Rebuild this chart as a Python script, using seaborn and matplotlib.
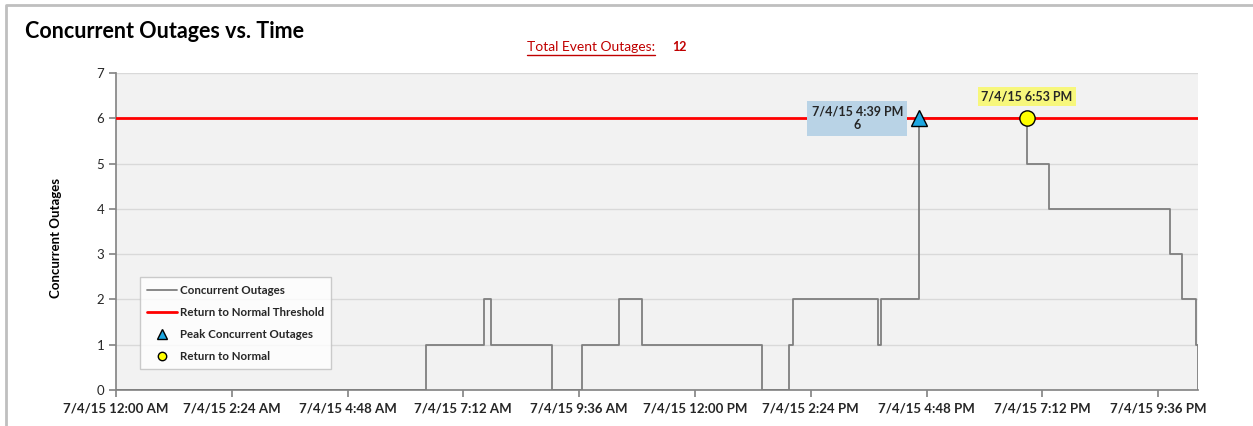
import numpy as np
import pandas as pd
import seaborn as sns
import matplotlib.pyplot as plt
from matplotlib.lines import Line2D

# step changes of concurrent outages on 7/4/15 (value holds until next change)
change_times = ["00:00", "06:25", "07:38", "07:46", "09:02", "09:40", "10:26",
                "10:54", "13:24", "13:57", "14:02", "15:48", "15:51", "16:39",
                "18:53", "19:20", "21:51", "22:06", "22:23", "22:25"]
outage_counts = [0, 1, 2, 1, 0, 1, 2, 1, 0, 1, 2, 1, 2, 6, 5, 4, 3, 2, 1, 0]

threshold = 6
peak_time = "16:39"
peak_value = 6
normal_time = "18:53"
normal_value = 6
total_event_outages = 12
y_ticks = [0, 1, 2, 3, 4, 5, 6, 7]

day = "2015-07-04 "
df = pd.DataFrame({"time": pd.to_datetime([day + t for t in change_times]),
                   "outages": outage_counts})
peak_dt = pd.Timestamp(day + peak_time)
normal_dt = pd.Timestamp(day + normal_time)

sns.set_theme(style="whitegrid", rc={
    "axes.facecolor": "#f2f2f2",
    "grid.color": "#d9d9d9",
    "grid.linewidth": 1.0,
    "axes.edgecolor": "#868686",
})
plt.rcParams["font.family"] = ["Lato", "DejaVu Sans"]

fig = plt.figure(figsize=(12.53, 4.26), dpi=100)
ax = fig.add_axes([116 / 1253, 1 - 390 / 426, 1081.5 / 1253, 317 / 426])

sns.lineplot(data=df, x="time", y="outages", ax=ax, drawstyle="steps-post",
             color="#7f7f7f", linewidth=1.3, label="Concurrent Outages", zorder=3)
ax.axhline(threshold, color="#ff0000", linewidth=2.0, zorder=4,
           label="Return to Normal Threshold")
ax.plot([peak_dt], [peak_value], linestyle="none", marker="^", markersize=12,
        markerfacecolor="#1ea7e1", markeredgecolor="black", markeredgewidth=1.0,
        zorder=6, label="Peak Concurrent Outages")
ax.plot([normal_dt], [normal_value], linestyle="none", marker="o", markersize=11,
        markerfacecolor="#ffff00", markeredgecolor="black", markeredgewidth=1.0,
        zorder=6, label="Return to Normal")


def fmt_dt(ts):
    return f"{ts.month}/{ts.day}/{ts.strftime('%y')} {ts.hour % 12 or 12}:{ts.minute:02d} {ts.strftime('%p')}"


ax.annotate(f"{fmt_dt(peak_dt)}\n{peak_value}", xy=(peak_dt, peak_value),
            xytext=(-62, 0), textcoords="offset pixels", ha="center", va="center",
            fontsize=9, fontweight="bold", color="#262626", linespacing=1.2,
            bbox=dict(boxstyle="square,pad=0.35", facecolor="#b9d3e6", edgecolor="none"),
            zorder=5)
ax.annotate(fmt_dt(normal_dt), xy=(normal_dt, normal_value),
            xytext=(0, 22), textcoords="offset pixels", ha="center", va="center",
            fontsize=9, fontweight="bold", color="#262626",
            bbox=dict(boxstyle="square,pad=0.3", facecolor="#f7f77c", edgecolor="none"),
            zorder=5)

# axes
start = df["time"].iloc[0]
ax.set_xlim(start, df["time"].iloc[-1])
ax.set_ylim(0, 7)
ax.set_yticks(y_ticks)
ticks = pd.date_range(start, periods=10, freq="144min")
ax.set_xticks(ticks)
ax.set_xticklabels([fmt_dt(t) for t in ticks])
ax.grid(axis="x", visible=False)
ax.grid(axis="y", visible=True)
for s in ["top", "right"]:
    ax.spines[s].set_visible(False)
ax.tick_params(axis="x", length=5, color="#868686", labelsize=9.5, pad=4,
               labelcolor="#262626", bottom=True)
ax.tick_params(axis="y", length=5, color="#868686", labelsize=9.5,
               labelcolor="#262626", left=True)
ax.set_xlabel("")
ax.set_ylabel("Concurrent Outages", fontsize=9.5, fontweight="bold", color="black")
ax.yaxis.set_label_coords(-0.05, 0.48)

leg = ax.legend(loc="lower left", bbox_to_anchor=(0.022, 0.066), borderaxespad=0,
                fontsize=8.3, frameon=True, fancybox=False, facecolor="white",
                edgecolor="#bfbfbf", handlelength=2.6, labelspacing=0.95,
                handletextpad=0.2, borderpad=0.65, markerscale=0.55)
leg.get_frame().set_linewidth(1.0)
for t in leg.get_texts():
    t.set_fontweight("bold")
    t.set_color("#262626")

# titles
fig.text(25 / 1253, 1 - 32 / 426, "Concurrent Outages vs. Time", fontsize=15.5,
         fontweight="bold", ha="left", va="center", color="black")
tot = fig.text(527 / 1253, 1 - 47 / 426, "Total Event Outages:", fontsize=10,
               color="#c00000", ha="left", va="center")
fig.text(672 / 1253, 1 - 47 / 426, str(total_event_outages), fontsize=9,
         fontweight="bold", color="#c00000", ha="left", va="center")
fig.canvas.draw()
bb = tot.get_window_extent().transformed(fig.transFigure.inverted())
fig.add_artist(Line2D([bb.x0, bb.x1], [bb.y0 - 0.004, bb.y0 - 0.004],
                      color="#c00000", linewidth=1.0, transform=fig.transFigure))

# chart border
fig.add_artist(Line2D([6 / 1253, 6 / 1253, 1.0], [0.0, 1 - 5 / 426, 1 - 5 / 426],
                      color="#bfbfbf", linewidth=2.0, transform=fig.transFigure))

# bold x tick labels (set after draw so the tick objects exist)
for tick in ax.xaxis.get_major_ticks():
    tick.label1.set_fontweight("bold")

fig.savefig("out.png", dpi=100)
